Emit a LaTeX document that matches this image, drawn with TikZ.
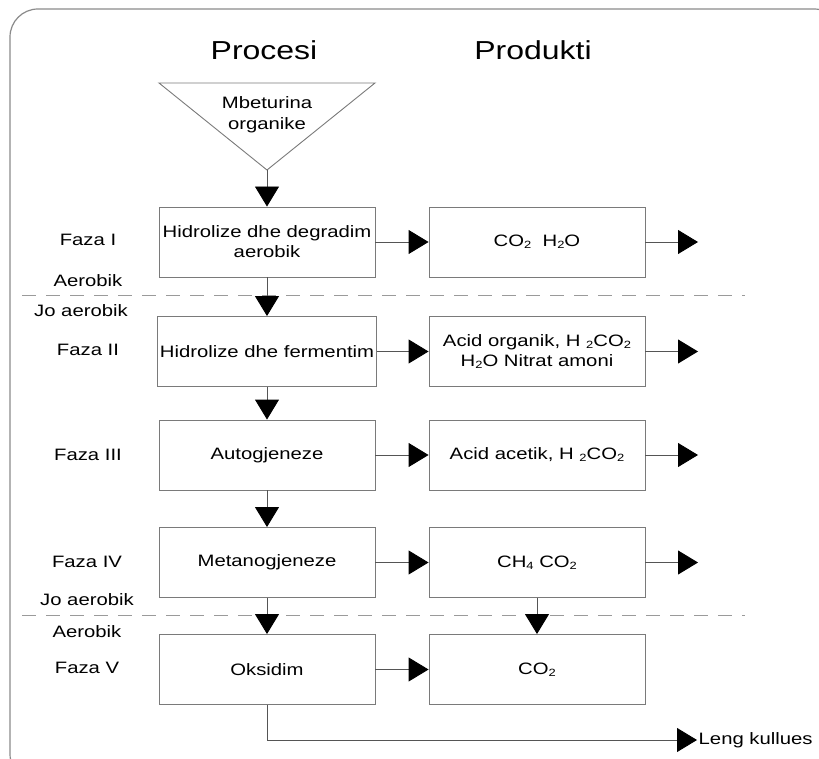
\documentclass[tikz,border=0pt]{standalone}
\usepackage{fontspec}
\setmainfont{Liberation Sans}[FakeStretch=1.23]
\usetikzlibrary{arrows.meta}
\definecolor{boxcol}{HTML}{7A7A7A}
\definecolor{linecol}{HTML}{555555}
\definecolor{framecol}{HTML}{8A8A8A}
\definecolor{dashcol}{HTML}{9A9A9A}
\newcommand{\sbs}[1]{\raisebox{-0.12em}{\fontsize{10.5}{10.5}\selectfont #1}}
\begin{document}
\begin{tikzpicture}[x=1pt,y=-1pt,
  boxnode/.style={draw=boxcol, line width=0.9pt, rectangle, minimum width=216pt, minimum height=70pt, inner sep=2pt, align=center, font=\fontsize{16.5}{20}\selectfont},
  lbl/.style={font=\fontsize{16.5}{20}\selectfont, inner sep=0pt},
  head/.style={font=\fontsize{26}{30}\selectfont, inner sep=0pt},
  arr/.style={draw=linecol, line width=0.9pt, -{Triangle[length=20pt,width=24pt,color=black]}},
  dashline/.style={draw=dashcol, line width=1pt, dash pattern=on 14pt off 10pt},
]
\useasboundingbox (0,0) rectangle (819,759);
\begin{scope}
\clip (0,0) rectangle (819,759);
\draw[framecol, line width=1.2pt, rounded corners=28pt] (10,9) rectangle (842,782);
\end{scope}

% headers
\node[head] (hp) at (264,50) {Procesi};
\node[head] (hq) at (533,50) {Produkti};

% input triangle
\coordinate (tl) at (159,83);
\coordinate (tr) at (375,83);
\coordinate (ap) at (267,170);
\draw[boxcol, line width=0.9pt] (tl) -- (tr) -- (ap) -- cycle;
\node[lbl, align=center, font=\fontsize{16.5}{21}\selectfont] (mo) at (267,115) {Mbeturina\\organike};

% process boxes
\node[boxnode] (p1) at (267,242) {Hidrolize dhe degradim\\aerobik};
\node[boxnode] (p2) at (267,351.5) {Hidrolize dhe fermentim};
\node[boxnode] (p3) at (267,455) {Autogjeneze};
\node[boxnode] (p4) at (267,562.5) {Metanogjeneze};
\node[boxnode] (p5) at (267,669.5) {Oksidim};

% product boxes
\node[boxnode] (q1) at (537,242) {CO\sbs{2}\ \ H\sbs{2}O};
\node[boxnode] (q2) at (537,351.5) {Acid organik, H \sbs{2}CO\sbs{2}\\H\sbs{2}O Nitrat amoni};
\node[boxnode] (q3) at (537,455) {Acid acetik, H \sbs{2}CO\sbs{2}};
\node[boxnode] (q4) at (537,562.5) {CH\sbs{4} CO\sbs{2}};
\node[boxnode] (q5) at (537,669.5) {CO\sbs{2}};

% left labels
\node[lbl] (f1) at (88,240) {Faza I};
\node[lbl] (a1) at (88,281) {Aerobik};
\node[lbl] (j1) at (81,311) {Jo aerobik};
\node[lbl] (f2) at (88,350) {Faza II};
\node[lbl] (f3) at (88,455) {Faza III};
\node[lbl] (f4) at (87,562) {Faza IV};
\node[lbl] (j2) at (87,600) {Jo aerobik};
\node[lbl] (a2) at (87,632) {Aerobik};
\node[lbl] (f5) at (87,668) {Faza V};

% dashed separators
\draw[dashline] (22,296) -- (745,296);
\draw[dashline] (22,615) -- (745,615);

% vertical arrows
\draw[arr] (ap) -- (p1.north);
\draw[arr] (p1.south) -- (p2.north);
\draw[arr] (p2.south) -- (p3.north);
\draw[arr] (p3.south) -- (p4.north);
\draw[arr] (p4.south) -- (p5.north);
\draw[arr] (q4.south) -- (q5.north);

% horizontal arrows
\draw[arr] (p1.east) -- (q1.west);
\draw[arr] (p2.east) -- (q2.west);
\draw[arr] (p3.east) -- (q3.west);
\draw[arr] (p4.east) -- (q4.west);
\draw[arr] (p5.east) -- (q5.west);

% outgoing arrows
\coordinate (o1) at (698,242);
\coordinate (o2) at (698,351.5);
\coordinate (o3) at (698,455);
\coordinate (o4) at (698,562.5);
\draw[arr] (q1.east) -- (o1);
\draw[arr] (q2.east) -- (o2);
\draw[arr] (q3.east) -- (o3);
\draw[arr] (q4.east) -- (o4);

% final output
\node[lbl, anchor=west, inner sep=1.5pt] (lk) at (697,740) {Leng kullues};
\draw[arr] (p5.south) |- (lk.west);
\end{tikzpicture}
\end{document}
